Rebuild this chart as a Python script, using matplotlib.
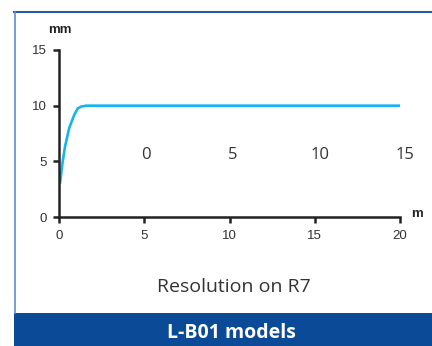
import matplotlib
matplotlib.use("Agg")
import matplotlib.pyplot as plt
from matplotlib.patches import Rectangle
from matplotlib.lines import Line2D

# Data
distance_m = [0.06, 0.2, 0.35, 0.6, 0.9, 1.1, 1.3, 1.6, 2.5, 5, 10, 15, 20]
resolution_mm = [3.0, 4.8, 6.3, 8.0, 9.2, 9.75, 9.92, 10.0, 10.0, 10.0, 10.0, 10.0, 10.0]
x_ticks = [0, 5, 10, 15, 20]
y_ticks = [0, 5, 10, 15]
stray_labels = ["0", "5", "10", "15"]
stray_x = [5.1, 10.2, 15.3, 20.3]
stray_y = 5.6

W, H = 432, 346
fig = plt.figure(figsize=(W / 100, H / 100), dpi=100)

# Frame and banner
fig.add_artist(Line2D([14 / W, 1], [1 - 12 / H] * 2, color="#2a5aa8", lw=1.5))
fig.add_artist(Line2D([15 / W] * 2, [1 - 12 / H, 1 - 313 / H], color="#5b8fd0", lw=1.2))
fig.add_artist(Rectangle((14 / W, 0), 1 - 14 / W, 33 / H, transform=fig.transFigure,
                         color="#0b4a97", lw=0))
fig.text(231 / W, 1 - 333 / H, "L-B01 models", color="white", fontsize=14,
         fontweight="bold", family="Open Sans", ha="center", va="center")
fig.text(234 / W, 1 - 287 / H, "Resolution on R7", color="#333333", fontsize=14,
         family="Open Sans", ha="center", va="center")

ax = fig.add_axes([59 / W, 1 - 217 / H, (400 - 59) / W, (217 - 50) / H])
ax.plot(distance_m, resolution_mm, color="#16b4ee", lw=1.9, solid_capstyle="butt")
ax.set_xlim(0, 20)
ax.set_ylim(0, 15)
ax.set_xticks(x_ticks)
ax.set_yticks(y_ticks)
for s in ["top", "right"]:
    ax.spines[s].set_visible(False)
for s in ["left", "bottom"]:
    ax.spines[s].set_linewidth(1.8)
    ax.spines[s].set_color("#222222")
ax.tick_params(direction="out", length=4, width=1.8, color="#222222",
               labelsize=9.5, labelcolor="#333333", pad=5)
for lbl in ax.get_xticklabels() + ax.get_yticklabels():
    lbl.set_family("Liberation Sans")
ax.patch.set_alpha(0)

for t, x in zip(stray_labels, stray_x):
    ax.text(x, stray_y, t, fontsize=12, color="#333333", family="Open Sans",
            ha="center", va="center")

fig.text(60 / W, 1 - 30 / H, "mm", fontsize=9.5, fontweight="bold",
         family="Liberation Sans", ha="center", va="center", color="#222222")
fig.text(417 / W, 1 - 214 / H, "m", fontsize=9.5, fontweight="bold",
         family="Liberation Sans", ha="center", va="center", color="#222222")

fig.savefig("out.png", dpi=100)
